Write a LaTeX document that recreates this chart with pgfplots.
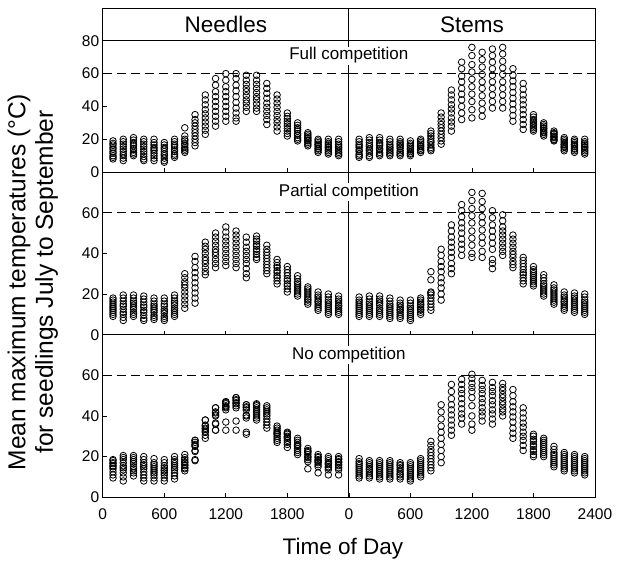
\documentclass[border=0pt]{standalone}
\usepackage{fontspec}
\setmainfont{Liberation Sans}
\usepackage{pgfplots}
\pgfplotsset{compat=1.18}
\usepackage{pgfplotstable}
\usepgfplotslibrary{groupplots}
\usetikzlibrary{calc}

% Needles, Full competition
\pgfplotstableread{
x a b c d e f g h i j
100 8 9 10 11.5 12.5 14 15 16.5 17.5 19
200 7 8.5 10 11 12.5 14 15.5 17 18.5 20
300 10 11 12 13.5 14.5 16 17 18 19.5 21
400 7 8 9.5 11 12.5 14 15.5 17 18.5 20
500 7 8.5 10 11.5 13 14 15 16.5 18 20
600 6 7 8.5 10 11 12.5 14 15 16.5 18
700 9 10 11 12.5 13.5 15 16 17 18.5 20
800 12 13 14 15 16.5 17.5 19 20 22 27
900 16 18 20 22 24 26 28 30 32 35
1000 23 25.5 28 30.5 33 35.5 38 41 44 47
1100 28 31 34 37 40 43 46 49 53 57
1200 31 34 37 40 43 46 49 52 56 60
1300 31 33 36 39 42.5 46 49.5 53 57 60
1400 37 39.5 42 44 46.5 49 51 53.5 56 59
1500 37 39 41.5 44 46 48.5 51 53.5 56 59
1600 29 32 34.5 37 39.5 42 45 48 51 54
1700 25 27.5 30 32 34.5 37 39.5 42 44.5 47
1800 22 23.5 25 26.5 28 29.5 31 32.5 34 36
1900 19 20 21 22.5 23.5 25 26 27 28.5 30
2000 16 17 18 19 19.5 20.5 21 22 23 24
2100 12 13 14 14.5 15.5 16.5 17 18 19 20
2200 11 12 13 14 15 15.5 16.5 17.5 18.5 20
2300 10 11 12 13 14 15 16 17 18.5 20
}\NF

% Stems, Full competition
\pgfplotstableread{
x a b c d e f g h i j
100 9 10 11 12.5 13.5 15 16 17 18.5 20
200 9 10 11.5 13 14 15.5 16.5 18 19.5 21
300 10 11 12 13.5 14.5 16 17 18 19.5 21
400 10 11 12 13 14 15 16 17 18.5 20
500 10 11 12 13 14.5 15.5 16.5 17.5 18.5 20
600 10 11 11.5 12.5 13.5 14.5 15.5 16.5 17.5 19
700 12 13 13.5 14.5 15.5 16 17 18 19 20
800 13 14 15 16.5 18 19 20.5 22 23.5 25
900 17 19 21 23 25 27 29 31 33.5 36
1000 25 28 30.5 33 36 38.5 41 44 47 50
1100 32 36 40 44 47.5 51 55 58.5 63 67
1200 33 38 43 47.5 52 56.5 61 65.5 71 76
1300 34 38 42 46.5 51 55 59.5 64 68.5 73
1400 39 43 47 51 55 59 63 67 71 75
1500 39 43 47 51 55 59.5 63.5 67.5 72 76
1600 31 34.5 38 41.5 45 48.5 52 55.5 59 63
1700 26 29 32 35 38 41 44 47 50.5 54
1800 25 26 27 28 29 30 31 32 33.5 35
1900 22 23 24 24.5 25.5 26.5 27 28 29 30
2000 19 19.5 20 21 21.5 22 23 23.5 24 25
2100 13 14 15 15.5 16.5 17 18 19 20 21
2200 12 13 14 14.5 15.5 16.5 17 18 19 20
2300 11 12 13 14 15 15.5 16.5 17.5 18.5 20
}\SF

% Needles, Partial competition
\pgfplotstableread{
x a b c d e f g h i j
100 9 10 11 12 13 14 15 16 17 18
200 7 8.5 10 11 12.5 14 15 16.5 18 19.5
300 9 10 11 12.5 13.5 14.5 15.5 16.5 18 19.5
400 7 8 9.5 11 12 13.5 14.5 16 17.5 19
500 7.5 8.5 9.5 11 12 13 14 15 16.5 18
600 7 8 9 10.5 11.5 12.5 14 15 16.5 18
700 9 10 11 12 13 14.5 15.5 16.5 18 19.5
800 13 15 17 19 21 23 24.5 26 28 30
900 15.5 18 20.5 23 25.5 28 30.5 33 36 38.5
1000 29.5 31 33 35 36.5 38 40 42 43.5 45.5
1100 33 35 37 39 40.5 42 44 46 48 50
1200 34 36 38 40 42 44 46 48 50.5 53
1300 33 35 37 39 41 43 45 47 49 51
1400 28 30 32.5 35 37 39 41 43 45.5 48
1500 37 38 39.5 41 42 43.5 44.5 46 47 48.5
1600 30 31.5 33 34.5 36 37.5 39 40.5 42 44
1700 25 26.5 28 29 30.5 31.5 33 34 35.5 37
1800 21 22.5 24 25 26.5 27.5 29 30.5 32 33.5
1900 19 20 21 22 23 24 25 26 27.5 29
2000 15 16 17 17.5 18.5 19.5 20.5 21.5 22.5 23.5
2100 12 13 14 15 16 16.5 17.5 18.5 19.5 21
2200 10 11 12 13 14 15 16 17 18.5 20
2300 10 11 12 13 14 14.5 15.5 16.5 17.5 19
}\NP

% Stems, Partial competition
\pgfplotstableread{
x a b c d e f g h i j
100 9 10 11 12 13 14 15 16 17 18.5
200 9 10 11 12 13 14 15 16 17.5 19
300 9 10 11 12 13 14.5 15.5 16.5 17.5 19
400 8 9 10 11 12 13 14 15 16.5 18
500 8 9 10 11 12 12.5 13.5 14.5 15.5 17
600 7 8 9 10 11 12 13 14 15.5 17
700 10 11 12 12.5 13.5 14.5 15 16 17 18
800 12 13.5 15 16.5 18 19.5 20.5 21 27 31
900 17 20 23 25.5 28 31 33.5 36 39 42
1000 30 32.5 35 38 40.5 43 45.5 48 51 54
1100 39 42 44.5 47 50 52.5 55 58 61 64
1200 38 40 44 47.5 51 55 58.5 62 66 70
1300 38 41 45 48 51.5 55 58 62 65.5 69.5
1400 32.5 35 37 42 45 48 51 54 57.5 61
1500 39 41 43 45 47 49 51 53 56 59
1600 33 34.5 36 38 39.5 41 43 45 47 49
1700 25 26.5 28 29.5 30.5 32 33.5 35 36.5 38
1800 24 25 26 27 28 29 30 31 32 33.5
1900 19 20 21 22 23 24 25 26.5 28 29.5
2000 15 16 17 18 19 20 21 22 23 24.5
2100 12 13 14 15 16 16.5 17.5 18.5 19.5 21
2200 11 12 13 14 15 16 17 18 19 20.5
2300 10 11 12 13 14 15 16 17 18.5 20
}\SP

% Needles, No competition
\pgfplotstableread{
x a b c d e f g h i j
100 9.5 11 12.5 14 15 15.5 16.5 17 18 18.5
200 8 10 12 13.5 14.5 15.5 17 18.5 19.5 20.5
300 10.5 12 13 14 15 16.5 17.5 18.5 19.5 20.5
400 8 9.5 11 12.5 14 15 16 17 18.5 20
500 8 9.5 11 12 13 14 15 16 17 19
600 8 9.5 11 12 13 13.5 14.5 15.5 17 18.5
700 9 10.5 12 13.5 14.5 15.5 16.5 17.5 18.5 20
800 13 14 14.5 15.5 16 17 17.5 18.5 19.5 21
900 18 18.5 22.5 23 25 25.5 26 27 28 28
1000 29 30.5 32 32.5 33.5 34 35 35.5 38 38
1100 33 33 36 36.5 40 40.5 41.5 42 44 44
1200 33 37 43 44 44.5 45 46 46.5 47 47
1300 33 37.5 44 45 46 46.5 47.5 48 49 49
1400 31 32 39 40 40.5 43 44 44.5 45.5 45.5
1500 38 39 40 41 42 43 44 45 45.5 46
1600 34 35.5 37 38.5 40 41 42 43 44 45
1700 27 28 29 30 31 31.5 32 33 34 35
1800 24.5 26 27 28 29 29.5 30 31 31.5 32
1900 21 22 23 24 25 25.5 26 27 28 29
2000 14 17.5 18.5 19.5 20 21 22 22.5 23 24
2100 12 15 16 17 17.5 18 18.5 19.5 20 21
2200 11 13.5 14.5 15 16 16.5 17 18 19 20
2300 11 13.5 14.5 15.5 16 17 17.5 18.5 19 20
}\NN

% Stems, No competition
\pgfplotstableread{
x a b c d e f g h i j
100 9.5 10.5 11.5 12.5 13.5 14.5 15.5 16.5 17.5 19
200 9.5 10.5 11.5 12.5 13.5 14 15 16 17 18
300 9 10 11 12 13 14 15 16 17 18
400 9 10 11 12 13 14 15 16 17 18
500 9 10 11 11.5 12.5 13.5 14.5 15.5 16 17
600 8 9 10 11 12 13 14 15 16 17
700 10 11 12 13 14 15 16 17 18 19
800 13 14.5 16 17.5 19 20.5 22 23.5 25.5 27.5
900 17 20 23 26 29 32 35 38.5 42 45.5
1000 30.5 33 35.5 38 40.5 43 45.5 48.5 52 55.5
1100 36 39 41 43.5 46 48.5 51 53 55.5 58
1200 33 36 40 45 49 52 54 56 58.5 60.5
1300 37.5 40 42 44 46.5 48.5 51 53 55 57.5
1400 36 38.5 41 43 45.5 47.5 50 52 54 56.5
1500 40 42 43.5 45.5 47 49 50.5 52.5 54 56
1600 29 31.5 34 37 39.5 42 44.5 47 50 53
1700 23 25.5 28 30 32 34.5 36.5 39 41.5 44
1800 20 21 22.5 23.5 25 26 27.5 28.5 30 31
1900 20 21 22 23 24 25 26 27 28 29
2000 15 16 17 18 19 20 21 22 23.5 25
2100 13 14 15 16 17 18 19 20 21 22
2200 12 13 14 15 16 17 18 19 20 21
2300 11 12 13 14 15 16 17 18 19 20
}\SN

\pgfplotsset{dots/.style={only marks, mark=o, mark size=3.3pt, black, mark options={line width=0.8pt}}}
\newcommand{\pts}[1]{%
\addplot[dots] table[x=x,y=a]{#1};
\addplot[dots] table[x=x,y=b]{#1};
\addplot[dots] table[x=x,y=c]{#1};
\addplot[dots] table[x=x,y=d]{#1};
\addplot[dots] table[x=x,y=e]{#1};
\addplot[dots] table[x=x,y=f]{#1};
\addplot[dots] table[x=x,y=g]{#1};
\addplot[dots] table[x=x,y=h]{#1};
\addplot[dots] table[x=x,y=i]{#1};
\addplot[dots] table[x=x,y=j]{#1};
}
\newcommand{\dashline}{\draw[line width=0.8pt, dash pattern=on 9pt off 5pt] (axis cs:0,60) -- (axis cs:2400,60);}
\newcommand{\panelfont}{\fontsize{17}{20}\selectfont}
\newcommand{\headfont}{\fontsize{22.5}{26}\selectfont}

\begin{document}
\begin{tikzpicture}
\begin{groupplot}[
  group style={group size=2 by 3, horizontal sep=0pt, vertical sep=0pt},
  scale only axis, width=246pt,
  xmin=0, xmax=2400, clip=false,
  axis line style={line width=0.8pt},
  tick style={line width=0.7pt, black},
  major tick length=4pt,
  xtick pos=left, ytick pos=left,
  tick align=inside,
  ticklabel style={font=\fontsize{15.5}{18}\selectfont},
  xticklabel style={yshift=-8pt},
  /pgf/number format/assume math mode=true,
  xtick={600,1200,1800}, xticklabels={},
]
% ---- top row
\nextgroupplot[height=164pt, ymin=0, ymax=100, ytick={0,20,40,60,80}, yticklabels={0,20,40,60,80}]
\pts{\NF}
\dashline
\draw[line width=0.8pt] (axis cs:0,80) -- (axis cs:2400,80);
\node[font=\headfont] at (axis cs:1200,90) {Needles};
\nextgroupplot[height=164pt, ymin=0, ymax=100, ytick=\empty]
\pts{\SF}
\dashline
\draw[line width=0.8pt] (axis cs:0,80) -- (axis cs:2400,80);
\node[font=\headfont] at (axis cs:1200,90) {Stems};
\node[font=\panelfont, fill=white, inner sep=1pt] at (axis cs:0,71) {Full competition};
% ---- middle row
\nextgroupplot[height=162.5pt, ymin=0, ymax=80, ytick={0,20,40,60}, yticklabels={0,20,40,60}]
\pts{\NP}
\dashline
\nextgroupplot[height=162.5pt, ymin=0, ymax=80, ytick=\empty]
\pts{\SP}
\dashline
\node[font=\panelfont, fill=white, inner sep=1pt] at (axis cs:0,70) {Partial competition};
% ---- bottom row
\nextgroupplot[height=162.5pt, ymin=0, ymax=80, ytick={0,20,40,60}, yticklabels={0,20,40,60},
  xtick={0,600,1200,1800}, xticklabels={0,600,1200,1800}]
\pts{\NN}
\dashline
\nextgroupplot[height=162.5pt, ymin=0, ymax=80, ytick=\empty,
  xtick={0,600,1200,1800,2400}, xticklabels={0,600,1200,1800,2400}]
\pts{\SN}
\dashline
\node[font=\panelfont, fill=white, inner sep=1pt] at (axis cs:0,70) {No competition};
\end{groupplot}
\node[rotate=90, align=center, font=\fontsize{24.5}{27.5}\selectfont] at ($(group c1r3.south west)+(-70pt,215pt)$)
  {Mean maximum temperatures (°C)\\for seedlings July to September};
\node[font=\fontsize{22.5}{26}\selectfont] at ($(group c1r3.south east)+(-6pt,-51pt)$) {Time of Day};
\path ($(group c1r3.south west)+(-102.7pt,-65pt)$) rectangle ($(group c2r1.north east)+(32pt,8pt)$);
\end{tikzpicture}
\end{document}
